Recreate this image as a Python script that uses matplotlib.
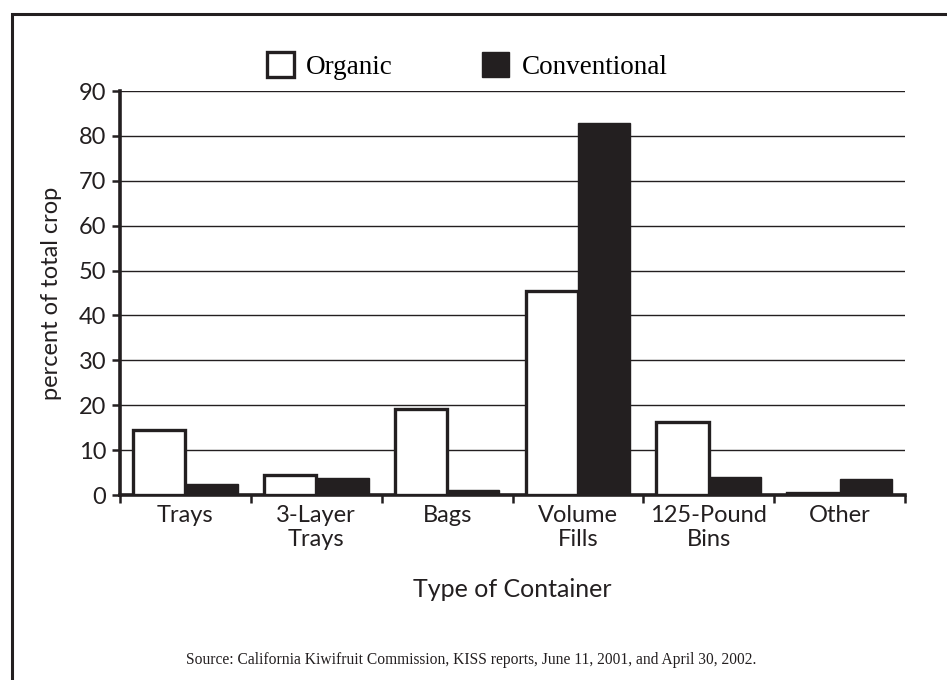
import numpy as np
import matplotlib
matplotlib.use('Agg')
import matplotlib.pyplot as plt
from matplotlib.patches import Rectangle, Patch

categorias = ['Trays', '3-Layer\nTrays', 'Bags', 'Volume\nFills', '125-Pound\nBins', 'Other']
organico = [14.5, 4.5, 19.2, 45.4, 16.3, 0.4]
convencional = [2.4, 3.8, 1.1, 82.8, 4.0, 3.6]
ticks_y = [0, 10, 20, 30, 40, 50, 60, 70, 80, 90]

COR = '#231f20'
FONTE_SANS = ['Lato', 'DejaVu Sans']
FONTE_SERIF = ['Liberation Serif', 'DejaVu Serif']

W, H = 947, 680
fig = plt.figure(figsize=(W / 100, H / 100), dpi=100)
ax = fig.add_axes([120 / W, 1 - 495 / H, 785 / W, 404 / H])

x = np.arange(len(categorias))
largura = 0.4

ax.bar(x - largura / 2, organico, largura, color='white', edgecolor=COR,
       linewidth=2.4, zorder=3, label='Organic')
ax.bar(x + largura / 2, convencional, largura, color=COR, edgecolor=COR,
       linewidth=1.0, zorder=3, label='Conventional')

ax.set_xlim(-0.5, len(categorias) - 0.5)
ax.set_ylim(0, 90)
ax.set_yticks(ticks_y)
ax.set_yticklabels([str(t) for t in ticks_y], fontsize=17, family=FONTE_SANS, color=COR)
for t in ticks_y[1:]:
    ax.axhline(t, color=COR, linewidth=1.0, zorder=1)

ax.set_xticks(x)
ax.set_xticklabels(categorias, fontsize=17, family=FONTE_SANS, color=COR, linespacing=1.2)
ax.set_xticks(np.arange(-0.5, len(categorias)), minor=True)
ax.tick_params(axis='x', which='major', length=0, pad=7)
ax.tick_params(axis='x', which='minor', length=6, width=1.8, color=COR, direction='out')
ax.tick_params(axis='y', length=6, width=1.8, color=COR, pad=4)

for lado in ['top', 'right']:
    ax.spines[lado].set_visible(False)
for lado in ['left', 'bottom']:
    ax.spines[lado].set_linewidth(2.6)
    ax.spines[lado].set_color(COR)

ax.set_ylabel('percent of total crop', fontsize=17, family=FONTE_SANS, color=COR, labelpad=12)
ax.set_xlabel('Type of Container', fontsize=18, family=FONTE_SANS, color=COR, labelpad=20)

handles = [Patch(facecolor='white', edgecolor=COR, linewidth=2.4),
           Patch(facecolor=COR, edgecolor=COR)]
fig.legend(handles, ['Organic', 'Conventional'], loc='center left',
           bbox_to_anchor=(267 / W, 1 - 66 / H), ncol=2, frameon=False,
           handlelength=1.0, handleheight=1.0, handletextpad=0.45,
           columnspacing=3.3, borderaxespad=0, borderpad=0,
           prop={'family': FONTE_SERIF, 'size': 19.5})

fig.text(471 / W, 1 - 660 / H,
         'Source: California Kiwifruit Commission, KISS reports, June 11, 2001, and April 30, 2002.',
         ha='center', va='center', fontsize=11.2, family=FONTE_SERIF, color=COR)

# moldura da figura (cortada na direita e embaixo)
fig.patches.append(Rectangle((12 / W, -0.2), 1.2, 1 - 14 / H + 0.2, fill=False,
                             edgecolor=COR, linewidth=2.2, transform=fig.transFigure,
                             figure=fig))

fig.savefig('out.png', dpi=100)
